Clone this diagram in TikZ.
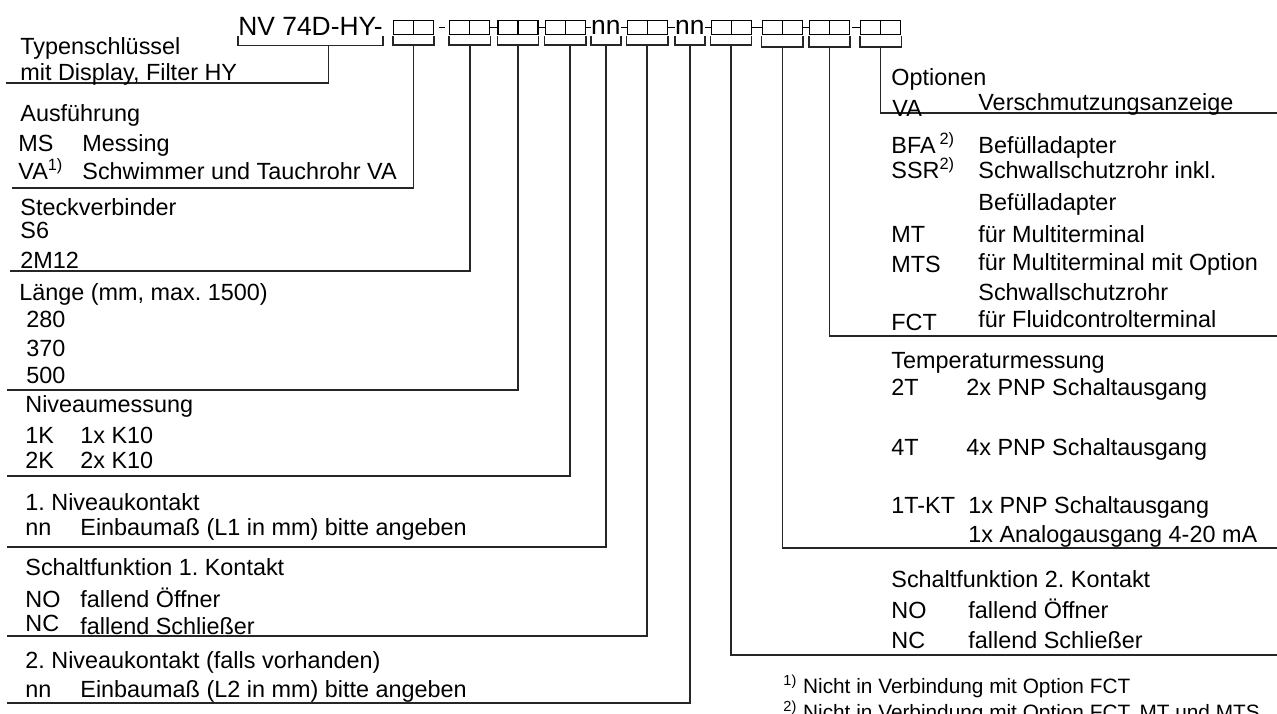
\documentclass[tikz,border=0pt]{standalone}
\usepackage{fontspec}
\setmainfont{Liberation Sans}
\frenchspacing
\usetikzlibrary{positioning,calc}

\begin{document}
\begin{tikzpicture}[
  x=0.5pt, y=-0.5pt,
  kopf/.style={inner sep=0pt, font=\fontsize{13.2}{15}\selectfont},
  kpaar/.style={draw, line width=0.6pt, minimum width=20pt, minimum height=7pt,
                inner sep=0pt,
                path picture={\draw[line width=0.6pt]
                  (path picture bounding box.north) -- (path picture bounding box.south);}},
  txt/.style={anchor=base west, inner sep=0pt, font=\fontsize{11.7}{14}\selectfont},
  fuss/.style={anchor=base west, inner sep=0pt, font=\fontsize{10.4}{12}\selectfont},
  linie/.style={line width=0.75pt, black!85},
  strich/.style={line width=0.9pt}
]
\useasboundingbox (0,0) rectangle (1277,713);

% Typenschluessel
\node[kopf, anchor=base west] (nv) at (238,35) {NV 74D-HY-};
\node[kpaar, anchor=south west] (p1) at (393,35) {};
\node[kpaar, right=7.5pt of p1] (p2) {};
\node[kpaar, right=3.5pt of p2] (p3) {};
\node[kpaar, right=3pt of p3]   (p4) {};
\node[kopf,  right=2.5pt of p4] (n1) {nn};
\node[kpaar, right=2.8pt of n1] (p5) {};
\node[kopf,  right=3.5pt of p5] (n2) {nn};
\node[kpaar, right=2.8pt of n2] (p6) {};
\node[kpaar, right=5pt of p6]   (p7) {};
\node[kpaar, right=3pt of p7]   (p8) {};
\node[kpaar, right=5pt of p8]   (p9) {};

% Bindestriche
\draw[strich] ($(p1.east)+(5,0)$) -- ($(p2.west)+(-4,0)$);
\draw[strich] (p2) -- (p3);
\draw[strich] (p3) -- (p4);
\draw[strich] (p4) -- (n1);
\draw[strich] (n1) -- (p5);
\draw[strich] (p5) -- (n2);
\draw[strich] (n2) -- (p6);
\draw[strich] (p6) -- (p7);
\draw[strich] (p7) -- (p8);
\draw[strich] ($(p8.east)+(2,0)$) -- (p9);

% Klammern
\draw[linie] ([yshift=-0.5pt]nv.south west) -- ++(0,9) -| ([yshift=-0.5pt]nv.south east);
\draw[linie] ([yshift=-0.5pt]p1.south west) -- ++(0,9) -| ([yshift=-0.5pt]p1.south east);
\draw[linie] ([yshift=-0.5pt]p2.south west) -- ++(0,9) -| ([yshift=-0.5pt]p2.south east);
\draw[linie] ([yshift=-0.5pt]p3.south west) -- ++(0,9) -| ([yshift=-0.5pt]p3.south east);
\draw[linie] ([yshift=-0.5pt]p4.south west) -- ++(0,9) -| ([yshift=-0.5pt]p4.south east);
\draw[linie] ([yshift=-0.5pt]n1.south west) -- ++(0,9) -| ([yshift=-0.5pt]n1.south east);
\draw[linie] ([yshift=-0.5pt]p5.south west) -- ++(0,9) -| ([yshift=-0.5pt]p5.south east);
\draw[linie] ([yshift=-0.5pt]n2.south west) -- ++(0,9) -| ([yshift=-0.5pt]n2.south east);
\draw[linie] ([yshift=-0.5pt]p6.south west) -- ++(0,9) -| ([yshift=-0.5pt]p6.south east);
\draw[linie] ([yshift=-0.5pt]p7.south west) -- ++(0,11) -| ([yshift=-0.5pt]p7.south east);
\draw[linie] ([yshift=-0.5pt]p8.south west) -- ++(0,11) -| ([yshift=-0.5pt]p8.south east);
\draw[linie] ([yshift=-0.5pt]p9.south west) -- ++(0,11) -| ([yshift=-0.5pt]p9.south east);

% Enden der Fuehrungslinien
\coordinate (eTyp)  at (6,83);
\coordinate (eAus)  at (12,188);
\coordinate (eStk)  at (10,271);
\coordinate (eLae)  at (7,390);
\coordinate (eNiv)  at (7,476);
\coordinate (eNk1)  at (7,547);
\coordinate (eSf1)  at (7,636);
\coordinate (eNk2)  at (7,703);
\coordinate (eOpt)  at (1277,113);
\coordinate (eOpt2) at (1277,336);
\coordinate (eTmp)  at (1277,548);
\coordinate (eSf2)  at (1277,655);

% Fuehrungslinien
\draw[linie] ($(nv.south)+(18,10)$) |- (eTyp);
\draw[linie] ($(p1.south)+(0,10)$) |- (eAus);
\draw[linie] ($(p2.south)+(0,10)$) |- (eStk);
\draw[linie] ($(p3.south)+(0,10)$) |- (eLae);
\draw[linie] ($(p4.south)+(5,10)$) |- (eNiv);
\draw[linie] ($(n1.south)+(0,10)$) |- (eNk1);
\draw[linie] ($(p5.south)+(0,10)$) |- (eSf1);
\draw[linie] ($(n2.south)+(0,10)$) |- (eNk2);
\draw[linie] ($(p6.south)+(0,10)$) |- (eSf2);
\draw[linie] ($(p7.south)+(0,12)$) |- (eTmp);
\draw[linie] ($(p8.south)+(0,12)$) |- (eOpt2);
\draw[linie] ($(p9.south)+(0,12)$) |- (eOpt);

% Texte links
\node[txt] (typ)  at (20,54)  {Typenschlüssel};
\node[txt] (typ2) at (20,80)  {mit Display, Filter HY};
\node[txt] (aus)  at (20,121) {Ausführung};
\node[txt] (ms)   at (18,151) {MS};
\node[txt] (msT)  at (82,151) {Messing};
\node[txt] (va)   at (18,179) {VA\textsuperscript{1)}};
\node[txt] (vaT)  at (82,179) {Schwimmer und Tauchrohr VA};
\node[txt] (stk)  at (20,215) {Steckverbinder};
\node[txt] (s6)   at (20,238) {S6};
\node[txt] (m12)  at (20,268) {2M12};
\node[txt] (lae)  at (19,300) {Länge (mm, max. 1500)};
\node[txt] (l280) at (26,327) {280};
\node[txt] (l370) at (26,356) {370};
\node[txt] (l500) at (26,383) {500};
\node[txt] (niv)  at (25,412) {Niveaumessung};
\node[txt] (k1)   at (25,443) {1K};
\node[txt] (k1T)  at (80,443) {1x K10};
\node[txt] (k2)   at (25,468) {2K};
\node[txt] (k2T)  at (80,468) {2x K10};
\node[txt] (nk1)  at (25,510) {1. Niveaukontakt};
\node[txt] (nn1)  at (25,535) {nn};
\node[txt] (nn1T) at (80,535) {Einbaumaß (L1 in mm) bitte angeben};
\node[txt] (sf1)  at (25,575) {Schaltfunktion 1. Kontakt};
\node[txt] (no1)  at (25,607) {NO};
\node[txt] (no1T) at (80,607) {fallend Öffner};
\node[txt] (nc1)  at (25,631) {NC};
\node[txt] (nc1T) at (80,634) {fallend Schließer};
\node[txt] (nk2)  at (25,668) {2. Niveaukontakt (falls vorhanden)};
\node[txt] (nn2)  at (25,697) {nn};
\node[txt] (nn2T) at (80,697) {Einbaumaß (L2 in mm) bitte angeben};

% Texte rechts
\node[txt] (opt)  at (891,85)  {Optionen};
\node[txt] (oVA)  at (892,116) {VA};
\node[txt] (oVAT) at (978,110) {Verschmutzungsanzeige};
\node[txt] (bfa)  at (891,153) {BFA\,\textsuperscript{2)}};
\node[txt] (bfaT) at (978,153) {Befülladapter};
\node[txt] (ssr)  at (891,178) {SSR\textsuperscript{2)}};
\node[txt] (ssrT) at (978,178) {Schwallschutzrohr inkl.};
\node[txt] (ssrU) at (978,210) {Befülladapter};
\node[txt] (mt)   at (891,242) {MT};
\node[txt] (mtT)  at (978,242) {für Multiterminal};
\node[txt] (mts)  at (891,272) {MTS};
\node[txt] (mtsT) at (978,270) {für Multiterminal mit Option};
\node[txt] (mtsU) at (978,300) {Schwallschutzrohr};
\node[txt] (fct)  at (891,330) {FCT};
\node[txt] (fctT) at (978,327) {für Fluidcontrolterminal};
\node[txt] (tmp)  at (891,368) {Temperaturmessung};
\node[txt] (t2)   at (891,395) {2T};
\node[txt] (t2T)  at (966,395) {2x PNP Schaltausgang};
\node[txt] (t4)   at (891,455) {4T};
\node[txt] (t4T)  at (966,455) {4x PNP Schaltausgang};
\node[txt] (t1)   at (891,513) {1T-KT};
\node[txt] (t1T)  at (968,513) {1x PNP Schaltausgang};
\node[txt] (t1U)  at (968,542) {1x Analogausgang 4-20 mA};
\node[txt] (sf2)  at (891,587) {Schaltfunktion 2. Kontakt};
\node[txt] (no2)  at (891,618) {NO};
\node[txt] (no2T) at (968,618) {fallend Öffner};
\node[txt] (nc2)  at (891,648) {NC};
\node[txt] (nc2T) at (968,648) {fallend Schließer};

% Fussnoten
\node[fuss] (fn1) at (783,693) {\textsuperscript{1)} Nicht in Verbindung mit Option FCT};
\node[fuss] (fn2) at (783,719) {\textsuperscript{2)} Nicht in Verbindung mit Option FCT, MT und MTS};
\end{tikzpicture}
\end{document}
